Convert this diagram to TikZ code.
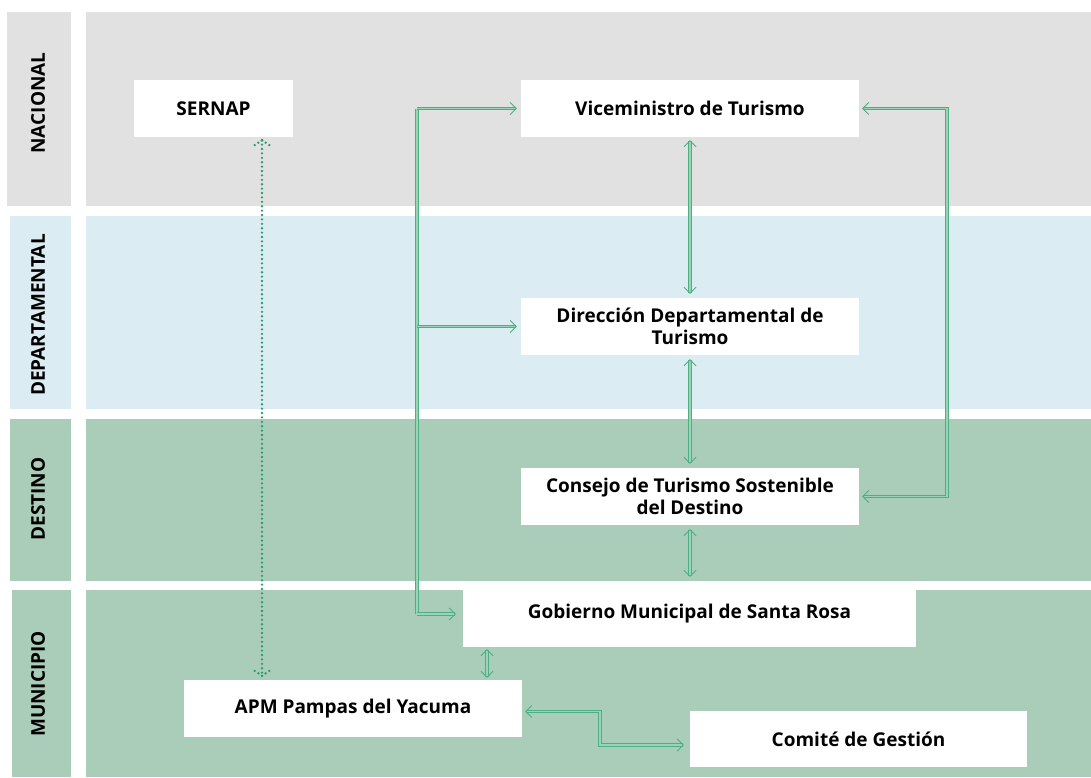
\documentclass[tikz,border=0pt]{standalone}
\usepackage{fontspec}
\setmainfont{Open Sans}
\usetikzlibrary{arrows.meta,calc}
\definecolor{grayb}{HTML}{E1E1E1}
\definecolor{blueb}{HTML}{DBEDF3}
\definecolor{greenb}{HTML}{AACDB9}
\definecolor{arrowc}{HTML}{4FAE82}
\definecolor{arrowl}{HTML}{9AD4B6}
\definecolor{dotc}{HTML}{2E9C6C}
\tikzset{
  box/.style={fill=white, draw=none, inner sep=0pt, align=center, font=\bfseries\fontsize{19}{22}\selectfont},
  lvl/.style={rotate=90, font=\bfseries\fontsize{19}{21}\selectfont},
  conn/.style={draw=arrowc, double=arrowl, double distance=1.4pt, line width=0.9pt},
  tip2/.style={-{Straight Barb[length=6pt,width=12pt]}},
  tipb/.style={{Straight Barb[length=6pt,width=12pt]}-{Straight Barb[length=6pt,width=12pt]}},
  dotl/.style={draw=dotc, line width=2.6pt, line cap=round, dash pattern=on 0pt off 4.4pt},
}
\begin{document}
\begin{tikzpicture}[x=1pt,y=-1pt]
\useasboundingbox (0,0) rectangle (1091,777);
% bands
\fill[grayb] (7,12) rectangle (71,206);
\fill[grayb] (86,12) rectangle (1091,206);
\fill[blueb] (10,216) rectangle (71,409);
\fill[blueb] (86,216) rectangle (1091,409);
\fill[greenb] (10,419) rectangle (71,581);
\fill[greenb] (86,419) rectangle (1091,581);
\fill[greenb] (12,590) rectangle (71,777);
\fill[greenb] (86,590) rectangle (1091,777);
% level labels
\node[lvl] (lnac) at (38,103) {NACIONAL};
\node[lvl] (ldep) at (38,315) {DEPARTAMENTAL};
\node[lvl] (ldes) at (38,499) {DESTINO};
\node[lvl] (lmun) at (38,684) {MUNICIPIO};
% boxes
\node[box, minimum width=159pt, minimum height=57pt] (sernap) at (213.5,108.5) {SERNAP};
\node[box, minimum width=338pt, minimum height=57pt] (vice) at (690,108.5) {Viceministro de Turismo};
\node[box, minimum width=338pt, minimum height=57pt] (dir) at (690,326.5) {Dirección Departamental de\\Turismo};
\node[box, minimum width=338pt, minimum height=57pt] (cons) at (690,496.5) {Consejo de Turismo Sostenible\\del Destino};
\node[box, minimum width=453pt, minimum height=66pt] (gob) at (689.5,614) {Gobierno Municipal de Santa Rosa};
\node[box, minimum width=338pt, minimum height=57pt] (apm) at (353,708.5) {APM Pampas del Yacuma};
\node[box, minimum width=337pt, minimum height=56pt] (com) at (858.5,739) {Comité de Gestión};
% helper coordinates
\coordinate (trunk) at (417,0);
\coordinate (rloop) at (947,0);
\coordinate (dotx) at (262,0);
\coordinate (gax) at (487,0);
\coordinate (acx) at (600,0);
% left trunk
\draw[conn] (trunk |- vice.west) -- (trunk |- gob.west);
\draw[conn, tip2, shorten >=4pt] (trunk |- vice.west) -- (vice.west);
\draw[conn, tip2, shorten >=4pt] (trunk |- dir.west) -- (dir.west);
\draw[conn, tip2, shorten >=7pt] (trunk |- gob.west) -- (gob.west);
% verticals
\draw[conn, tipb, shorten <=3pt, shorten >=4pt] (vice.south) -- (dir.north);
\draw[conn, tipb, shorten <=4pt, shorten >=4pt] (dir.south) -- (cons.north);
\draw[conn, tipb, shorten <=4pt, shorten >=4pt] (cons.south) -- (gob.north -| cons.south);
\draw[conn, tipb, shorten <=2pt, shorten >=2pt] (gax |- gob.south) -- (gax |- apm.north);
% right loop
\draw[conn, tipb, shorten <=3pt, shorten >=3pt] (vice.east) -- (rloop |- vice.east) -- (rloop |- cons.east) -- (cons.east);
% APM - Comite
\draw[conn, tipb, shorten <=3pt, shorten >=6pt] ($(apm.east)+(0,3)$) -- ($(acx |- apm.east)+(0,3)$) -- ($(acx |- com.west)+(0,6)$) -- ($(com.west)+(0,6)$);
% dotted SERNAP - APM
\coordinate (dt) at ($(dotx |- sernap.south)+(0,3)$);
\coordinate (db) at ($(dotx |- apm.north)+(0,-4)$);
\draw[dotl] (dt) -- (db);
\draw[dotl] (dt) -- ++(-9,6);
\draw[dotl] (dt) -- ++(9,6);
\draw[dotl] (db) -- ++(-9,-6);
\draw[dotl] (db) -- ++(9,-6);
\end{tikzpicture}
\end{document}
